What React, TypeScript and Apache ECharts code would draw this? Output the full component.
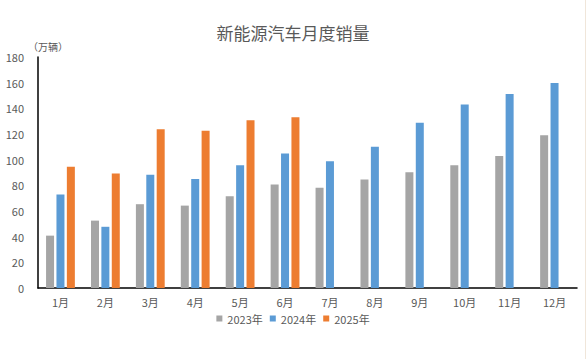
import React, { useEffect, useRef } from "react";
import * as echarts from "echarts";

const months = ["1月", "2月", "3月", "4月", "5月", "6月", "7月", "8月", "9月", "10月", "11月", "12月"];
const sales2023 = [40.8, 52.5, 65.3, 64.2, 71.5, 80.6, 78.2, 84.6, 90.2, 95.6, 102.8, 119.1];
const sales2024 = [72.9, 47.7, 88.3, 85.0, 95.6, 104.8, 98.8, 110.0, 128.8, 143.0, 151.2, 159.8];
const sales2025 = [94.4, 89.2, 123.7, 122.6, 130.8, 133.0, null, null, null, null, null, null];
const seriesNames = ["2023年", "2024年", "2025年"];
const colors = ["#A5A5A5", "#5B9BD5", "#ED7D31"];

const FONT = "'Noto Sans CJK SC', 'Noto Sans', sans-serif";

export default function App() {
  const ref = useRef<HTMLDivElement>(null);
  useEffect(() => {
    document.body.style.margin = "0";
    if (!ref.current) return;
    const chart = echarts.init(ref.current, null, { renderer: "svg" });
    const data = [sales2023, sales2024, sales2025];
    chart.setOption({
      animation: false,
      backgroundColor: "#ffffff",
      title: {
        text: "新能源汽车月度销量",
        left: "center",
        top: 19,
        textStyle: { fontFamily: FONT, fontSize: 17, fontWeight: "normal", color: "#595959" },
      },
      legend: {
        data: seriesNames,
        top: 313,
        left: "center",
        padding: 0,
        itemWidth: 6,
        itemHeight: 6,
        itemGap: 7,
        icon: "rect",
        textStyle: { fontFamily: FONT, fontSize: 11, color: "#595959" },
      },
      grid: { left: 38, right: 9, top: 57, bottom: 71, containLabel: false },
      xAxis: {
        type: "category",
        data: months,
        axisLine: { lineStyle: { color: "#000000", width: 1.5 } },
        axisTick: { show: false },
        axisLabel: { fontFamily: FONT, fontSize: 11, color: "#595959", margin: 8 },
      },
      yAxis: {
        type: "value",
        min: 0,
        max: 180,
        interval: 20,
        name: "（万辆）",
        nameLocation: "end",
        nameGap: -2,
        nameTextStyle: { fontFamily: FONT, fontSize: 10, color: "#595959", align: "left", padding: [0, 0, 0, -10] },
        axisLine: { show: true, lineStyle: { color: "#000000", width: 1.5 } },
        axisTick: { show: false },
        splitLine: { show: false },
        axisLabel: { fontFamily: FONT, fontSize: 11, color: "#595959", margin: 14 },
      },
      series: seriesNames.map((name, i) => ({
        name,
        type: "bar",
        data: data[i],
        barWidth: 8,
        barGap: "30%",
        itemStyle: { color: colors[i] },
      })),
      graphic: [
        { type: "rect", shape: { x: 585, y: 0, width: 1, height: 359 }, style: { fill: "#F0E6DA" } },
      ],
    });
    return () => chart.dispose();
  }, []);
  return <div ref={ref} style={{ width: 586, height: 359 }} />;
}
